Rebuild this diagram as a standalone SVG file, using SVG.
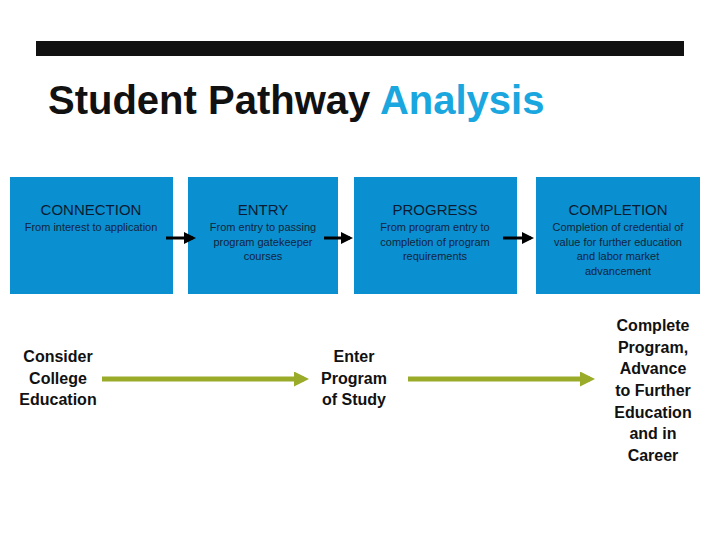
<svg xmlns="http://www.w3.org/2000/svg" width="720" height="540" viewBox="0 0 720 540">
<style>
.box{fill:#0a8fd0}
.h{font-family:"Liberation Sans",Arial,sans-serif;font-size:15px;fill:#0b1b33;text-anchor:middle}
.s{font-family:"Liberation Sans",Arial,sans-serif;font-size:11px;fill:#13243d;text-anchor:middle}
.b{font-family:"Liberation Sans",Arial,sans-serif;font-size:16px;font-weight:bold;fill:#111;text-anchor:middle}
.k{stroke:#000;stroke-width:3;fill:none}
.g{stroke:#9aab2a;stroke-width:5;fill:none}
</style>
<defs>
<marker id="ak" markerWidth="4" markerHeight="4" refX="3" refY="2" orient="auto" markerUnits="strokeWidth"><path d="M0,0L4,2L0,4z" fill="#000"/></marker>
<marker id="ag" markerWidth="3" markerHeight="3" refX="2" refY="1.5" orient="auto" markerUnits="strokeWidth"><path d="M0,0L3,1.5L0,3z" fill="#9aab2a"/></marker>
</defs>
<rect width="720" height="540" fill="#fff"/>
<rect x="36" y="41" width="648" height="15" fill="#111"/>
<text x="48" y="114" font-family="Liberation Sans,Arial,sans-serif" font-size="40" font-weight="bold" fill="#111">Student Pathway <tspan fill="#1aa6de">Analysis</tspan></text>
<g id="connection"><rect class="box" x="10" y="177" width="163" height="117"/><text class="h" x="91" y="215">CONNECTION</text><text class="s" x="91" y="231">From interest to application</text></g>
<g id="entry"><rect class="box" x="188" y="177" width="150" height="117"/><text class="h" x="263" y="215">ENTRY</text><text class="s" x="263" y="231">From entry to passing</text><text class="s" x="263" y="246">program gatekeeper</text><text class="s" x="263" y="260">courses</text></g>
<g id="progress"><rect class="box" x="354" y="177" width="163" height="117"/><text class="h" x="435" y="215">PROGRESS</text><text class="s" x="435" y="231">From program entry to</text><text class="s" x="435" y="246">completion of program</text><text class="s" x="435" y="260">requirements</text></g>
<g id="completion"><rect class="box" x="536" y="177" width="164" height="117"/><text class="h" x="618" y="215">COMPLETION</text><text class="s" x="618" y="231">Completion of credential of</text><text class="s" x="618" y="246">value for further education</text><text class="s" x="618" y="260">and labor market</text><text class="s" x="618" y="275">advancement</text></g>
<g id="consider"><text class="b" x="58" y="362">Consider</text><text class="b" x="58" y="384">College</text><text class="b" x="58" y="405">Education</text></g>
<g id="enter"><text class="b" x="354" y="362">Enter</text><text class="b" x="354" y="384">Program</text><text class="b" x="354" y="405">of Study</text></g>
<g id="complete"><text class="b" x="653" y="331">Complete</text><text class="b" x="653" y="353">Program,</text><text class="b" x="653" y="374">Advance</text><text class="b" x="653" y="396">to Further</text><text class="b" x="653" y="418">Education</text><text class="b" x="653" y="439">and in</text><text class="b" x="653" y="461">Career</text></g>
<g id="connectors">
<line class="k" x1="166" y1="238" x2="193" y2="238" marker-end="url(#ak)"/>
<line class="k" x1="324" y1="238" x2="350" y2="238" marker-end="url(#ak)"/>
<line class="k" x1="503" y1="238" x2="531" y2="238" marker-end="url(#ak)"/>
<line class="g" x1="102" y1="379" x2="304" y2="379" marker-end="url(#ag)"/>
<line class="g" x1="408" y1="379" x2="590" y2="379" marker-end="url(#ag)"/>
</g>
</svg>
